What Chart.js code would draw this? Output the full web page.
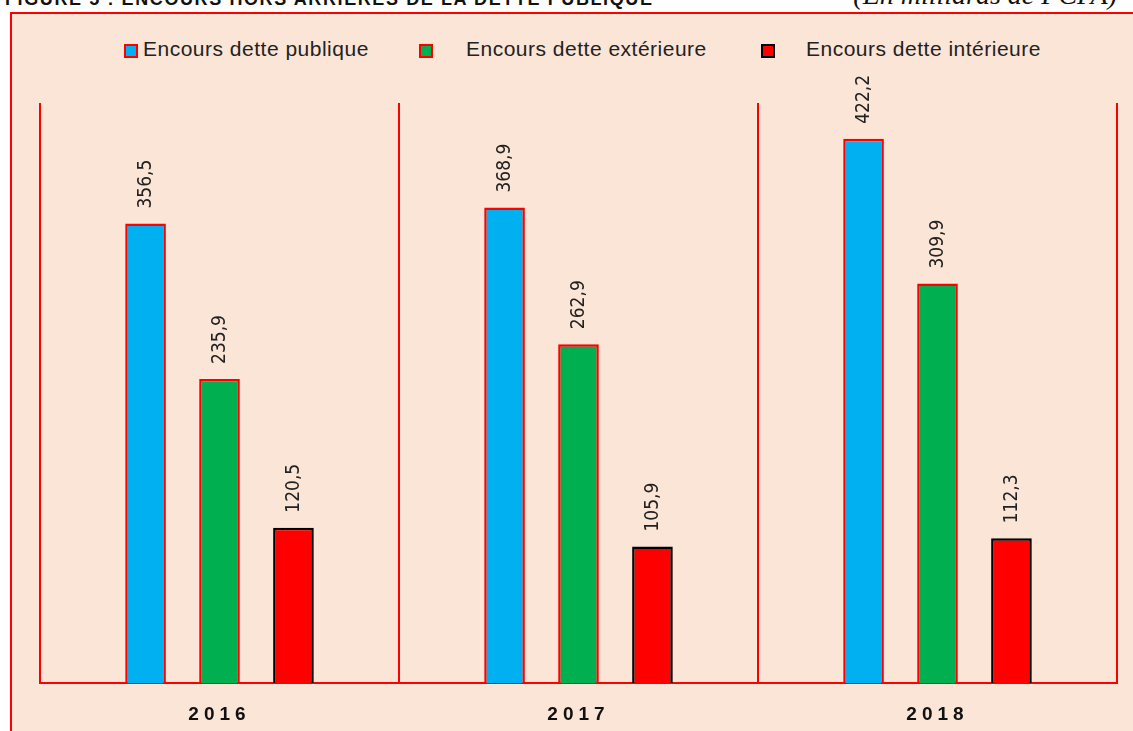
<!DOCTYPE html>
<html>
<head>
<meta charset="utf-8">
<script src="https://cdn.jsdelivr.net/npm/chart.js@4"></script>
<style>
  html, body { margin: 0; padding: 0; background: #fff; overflow: hidden; }
  #page { position: relative; width: 1133px; height: 731px; overflow: hidden; }
  #frame { position: absolute; left: 10px; top: 12px; width: 1140px; height: 740px;
           border: 2px solid #ff0000; background: #fbe5d6; }
  #title { position: absolute; left: 5px; top: -11px; font: bold 18px "Liberation Sans", Arial, sans-serif; letter-spacing: 1.6px; color: #111; white-space: nowrap; }
  #unit { position: absolute; right: 16px; top: -21px; font: italic 28px "Liberation Serif", serif; color: #111; white-space: nowrap; }
  #chartBox { position: absolute; left: 0; top: 0; width: 1133px; height: 731px; }
  .lg-box { position: absolute; width: 10px; height: 10px; border: 2px solid #ff0000; }
  .lg-text { position: absolute; top: 37px; font: 21px "Liberation Sans", Arial, sans-serif; color: #222; letter-spacing: 0.5px; white-space: nowrap; }
</style>
</head>
<body>
<div id="page">
  <div id="title">FIGURE 5 : ENCOURS HORS ARRIERES DE LA DETTE PUBLIQUE</div>
  <div id="unit">(En milliards de FCFA)</div>
  <div id="frame"></div>
  <div id="legend"></div>
  <div id="chartBox"><canvas id="barChart" width="1133" height="731"></canvas></div>
</div>
<script>
// données
const years = ['2016', '2017', '2018'];
const seriesNames = ['Encours dette publique', 'Encours dette extérieure', 'Encours dette intérieure'];
const detteTotale = [356.5, 368.9, 422.2];
const detteExterieure = [235.9, 262.9, 309.9];
const detteInterieure = [120.5, 105.9, 112.3];

const fillColors = ['#00b0f0', '#00b050', '#ff0000'];
const borderColors = ['#ff0000', '#ff0000', '#000000'];

// légende (positions prises sur l'image)
const legendBoxX = [124, 419, 761];
const legendTextX = [143, 466, 806];
const legendEl = document.getElementById('legend');
seriesNames.forEach((name, i) => {
    legendEl.innerHTML += `
        <div class="lg-box" style="left:${legendBoxX[i]}px;top:44px;background:${fillColors[i]};border-color:${borderColors[i]}"></div>
        <div class="lg-text" style="left:${legendTextX[i]}px">${name}</div>`;
});

/**
 * valeurs au-dessus des barres, texte vertical
 */
const valueLabels = {
    id: 'valueLabels',
    beforeDraw(chart) {
        // espacement des lettres pour les années
        chart.ctx.letterSpacing = '5px';
    },
    afterDatasetsDraw(chart) {
        const { ctx } = chart;
        ctx.save();
        ctx.letterSpacing = '0px';
        ctx.font = '19px "DejaVu Sans Condensed", "DejaVu Sans", sans-serif';
        ctx.fillStyle = '#222';
        ctx.textAlign = 'left';
        ctx.textBaseline = 'middle';
        chart.data.datasets.forEach((ds, d) => {
            chart.getDatasetMeta(d).data.forEach((bar, i) => {
                const txt = ds.data[i].toFixed(1).replace('.', ',');
                ctx.save();
                ctx.translate(bar.x + 1, bar.y - 15);
                ctx.rotate(-Math.PI / 2);
                ctx.fillText(txt, 0, 0);
                ctx.restore();
            });
        });
        ctx.restore();
    }
};

const datasets = [detteTotale, detteExterieure, detteInterieure].map((values, i) => ({
    label: seriesNames[i],
    data: values,
    backgroundColor: fillColors[i],
    borderColor: borderColors[i],
    borderWidth: 2.5,
    borderSkipped: 'bottom',
    categoryPercentage: 0.618,
    barPercentage: 0.55
}));

new Chart(document.getElementById('barChart').getContext('2d'), {
    type: 'bar',
    data: { labels: years, datasets: datasets },
    options: {
        responsive: false,
        animation: false,
        layout: { padding: { left: 40, right: 16, top: 103, bottom: 0 } },
        plugins: {
            legend: { display: false },
            tooltip: { enabled: false }
        },
        scales: {
            x: {
                grid: { offset: true, color: '#ff0000', lineWidth: 2, drawTicks: false },
                border: { color: '#ff0000', width: 2 },
                ticks: {
                    color: '#111',
                    padding: 20,
                    font: { family: '"Liberation Sans", Arial, sans-serif', size: 19, weight: 'bold' }
                },
                afterFit(scale) { scale.height = 48; }
            },
            y: {
                display: false,
                min: 0,
                max: 450
            }
        }
    },
    plugins: [valueLabels]
});
</script>
</body>
</html>
